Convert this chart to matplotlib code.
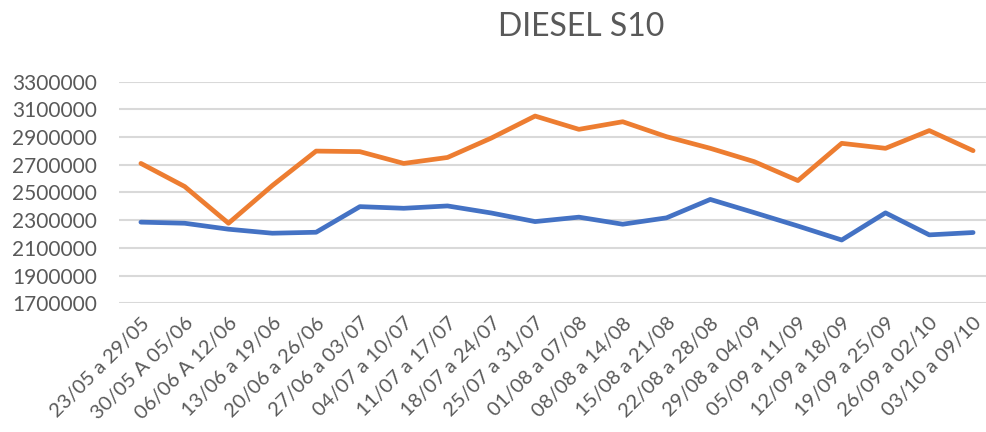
import matplotlib.pyplot as plt
import numpy as np

semanas = ["23/05 a 29/05", "30/05 A 05/06", "06/06 A 12/06", "13/06 a 19/06",
           "20/06 a 26/06", "27/06 a 03/07", "04/07 a 10/07", "11/07 a 17/07",
           "18/07 a 24/07", "25/07 a 31/07", "01/08 a 07/08", "08/08 a 14/08",
           "15/08 a 21/08", "22/08 a 28/08", "29/08 a 04/09", "05/09 a 11/09",
           "12/09 a 18/09", "19/09 a 25/09", "26/09 a 02/10", "03/10 a 09/10"]

serie_laranja = [2710000, 2543000, 2278000, 2550000, 2799000, 2795000, 2710000,
                 2753000, 2893000, 3052000, 2956000, 3011000, 2903000, 2819000,
                 2723000, 2586000, 2855000, 2819000, 2947000, 2802000]

serie_azul = [2286000, 2278000, 2235000, 2206000, 2213000, 2398000, 2386000,
              2403000, 2352000, 2290000, 2322000, 2271000, 2317000, 2450000,
              2355000, 2258000, 2157000, 2353000, 2194000, 2211000]

yticks = np.arange(1700000, 3300001, 200000)

plt.rcParams['font.family'] = ['Lato', 'DejaVu Sans']

fig = plt.figure(figsize=(9.87, 4.32), dpi=100)
ax = fig.add_axes([119/987, 1 - 303.3/432, 876/987, (303.3 - 81.7)/432])

x = np.arange(len(semanas))
ax.plot(x, serie_azul, color='#4472C4', linewidth=3.4, solid_capstyle='round', zorder=3)
ax.plot(x, serie_laranja, color='#ED7D31', linewidth=3.4, solid_capstyle='round', zorder=3)

ax.set_xlim(-0.5, len(semanas) - 0.5)
ax.set_ylim(1700000, 3300000)
ax.set_yticks(yticks)
ax.set_yticklabels([str(v) for v in yticks], fontsize=15, color='#595959')
ax.set_xticks(x)
ax.set_xticklabels(semanas, rotation=45, ha='right', rotation_mode='anchor',
                   fontsize=14.5, color='#595959')
ax.tick_params(axis='both', length=0)
ax.tick_params(axis='y', pad=16)
ax.tick_params(axis='x', pad=8)

ax.grid(axis='y', color='#d9d9d9', linewidth=1.5)
ax.set_axisbelow(True)
for s in ax.spines.values():
    s.set_visible(False)

fig.text(581/987, 1 - 27/432, 'DIESEL S10', ha='center', va='center',
         fontsize=23, color='#595959')

fig.savefig('out.png', dpi=100)
